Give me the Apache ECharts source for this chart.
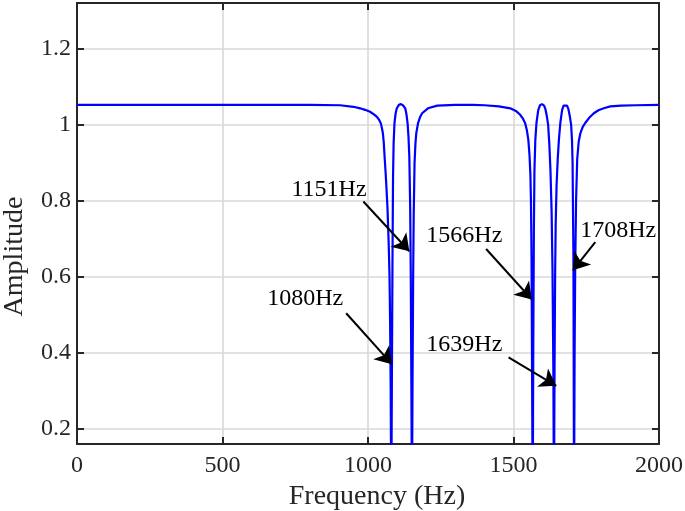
<!DOCTYPE html>
<html>
<head>
<meta charset="utf-8">
<script src="https://cdn.jsdelivr.net/npm/echarts@6/dist/echarts.min.js"></script>
<style>
  html, body { margin: 0; padding: 0; background: #fff; }
  #main { width: 685px; height: 511px; }
</style>
</head>
<body>
<div id="main"></div>
<script>
// frequency response (Hz / amplitude)
var freqs = [
    0, 500, 800, 904, 950, 973, 990, 1007, 1020, 1030, 1038, 1044, 1048, 1051, 1054, 1057, 1060, 1063, 1067, 1071, 1074, 1076, 1078,
    1080, 1082, 1084, 1086, 1088, 1091, 1095, 1099, 1106, 1113, 1120, 1128, 1132, 1136, 1139, 1142, 1145, 1147, 1149,
    1151, 1153, 1155, 1157, 1160, 1163, 1166, 1172, 1179, 1186, 1206, 1238, 1300, 1360, 1400, 1450, 1489, 1510, 1523, 1533,
    1540, 1546, 1551, 1555, 1558, 1560, 1562, 1564,
    1566, 1568, 1570, 1572, 1575, 1579, 1585, 1591, 1598, 1605, 1610, 1615, 1619, 1623, 1627, 1631, 1634, 1637,
    1639, 1641, 1643, 1645, 1648, 1652, 1656, 1661, 1667, 1672, 1678, 1684, 1689, 1694, 1698, 1701, 1703, 1706,
    1708, 1710, 1712, 1715, 1719, 1724, 1730, 1738, 1747, 1760, 1776, 1792, 1810, 1833, 1870, 1920, 2000
];
var amps = [
    1.052, 1.052, 1.052, 1.051, 1.047, 1.043, 1.039, 1.034, 1.027, 1.021, 1.013, 1.004, 0.990, 0.978, 0.955, 0.916, 0.880, 0.840, 0.780, 0.690, 0.600, 0.480, 0.300,
    0, 0.32, 0.62, 0.86, 0.95, 1.004, 1.030, 1.043, 1.052, 1.054, 1.051, 1.043, 1.028, 1.004, 0.970, 0.916, 0.780, 0.600, 0.320,
    0, 0.32, 0.58, 0.76, 0.90, 0.950, 0.978, 1.004, 1.020, 1.030, 1.043, 1.050, 1.052, 1.052, 1.051, 1.048, 1.043, 1.035, 1.026, 1.015,
    1.004, 0.985, 0.960, 0.920, 0.870, 0.800, 0.650, 0.320,
    0, 0.42, 0.72, 0.88, 0.96, 1.005, 1.038, 1.051, 1.054, 1.050, 1.040, 1.020, 1.000, 0.950, 0.880, 0.770, 0.620, 0.350,
    0, 0.35, 0.60, 0.74, 0.84, 0.91, 0.96, 1.005, 1.038, 1.050, 1.054, 1.050, 1.040, 1.020, 1.000, 0.960, 0.900, 0.650,
    0, 0.40, 0.62, 0.80, 0.910, 0.955, 0.978, 0.994, 1.005, 1.018, 1.030, 1.038, 1.043, 1.048, 1.050, 1.051, 1.052
];
var yTicks = [0.2, 0.4, 0.6, 0.8, 1, 1.2];

// notch annotations: text, text position, arrow start, arrow tip (data units)
var noteText = ['1151Hz', '1080Hz', '1566Hz', '1639Hz', '1708Hz'];
var notePos = [[866, 0.829], [784, 0.543], [1331, 0.708], [1331, 0.420], [1860, 0.721]];
var arrowFrom = [[984, 0.798], [925, 0.504], [1406, 0.673], [1483, 0.388], [1781, 0.691]];
var arrowTo = [[1142, 0.667], [1082, 0.370], [1563, 0.540], [1647, 0.313], [1704, 0.617]];

var FONT = 'Liberation Serif';
var AXIS_COLOR = '#262626';
var GRID_COLOR = '#d9d9d9';

var chart = echarts.init(document.getElementById('main'), null, { renderer: 'canvas' });

var curve = freqs.map(function (f, i) { return [f, amps[i]]; });
var texts = noteText.map(function (t, i) { return { name: t, value: notePos[i] }; });
var arrows = noteText.map(function (t, i) {
    return [{ coord: arrowFrom[i] }, { coord: arrowTo[i] }];
});

function xAx(pos, show) {
    return {
        type: 'value',
        position: pos,
        min: 0,
        max: 2000,
        interval: 500,
        axisLine: { show: true, onZero: false, lineStyle: { color: AXIS_COLOR, width: 2 } },
        axisTick: { show: true, inside: true, length: 7, lineStyle: { color: AXIS_COLOR, width: 2 } },
        axisLabel: {
            show: show, margin: 10, fontFamily: FONT, fontSize: 24, color: AXIS_COLOR,
            formatter: function (v) { return String(v); }
        },
        splitLine: { show: show, lineStyle: { color: GRID_COLOR, width: 1.6 } },
        name: show ? 'Frequency (Hz)' : '',
        nameLocation: 'middle',
        nameGap: 36,
        nameTextStyle: { fontFamily: FONT, fontSize: 28, color: AXIS_COLOR, padding: [0, 0, 0, 18] }
    };
}

function yAx(pos, show) {
    return {
        type: 'value',
        position: pos,
        min: 0.16,
        max: 1.32,
        axisLine: { show: true, onZero: false, lineStyle: { color: AXIS_COLOR, width: 2 } },
        axisTick: { show: true, inside: true, length: 7, customValues: yTicks, lineStyle: { color: AXIS_COLOR, width: 2 } },
        axisLabel: { show: show, margin: 6, customValues: yTicks, fontFamily: FONT, fontSize: 24, color: AXIS_COLOR },
        splitLine: { show: show, lineStyle: { color: GRID_COLOR, width: 1.6 } },
        name: show ? 'Amplitude' : '',
        nameLocation: 'middle',
        nameGap: 48,
        nameTextStyle: { fontFamily: FONT, fontSize: 28, color: AXIS_COLOR, padding: [0, 66, 0, 0] }
    };
}

var option = {
    animation: false,
    backgroundColor: '#fff',
    grid: { left: 77, right: 26, top: 3, bottom: 67, containLabel: false, outerBoundsMode: 'none' },
    xAxis: [xAx('bottom', true), xAx('top', false)],
    yAxis: [yAx('left', true), yAx('right', false)],
    series: [
        {
            type: 'line',
            data: curve,
            showSymbol: false,
            clip: true,
            lineStyle: { color: '#0000ff', width: 2.2 },
            z: 3
        },
        {
            type: 'scatter',
            data: texts,
            symbolSize: 0,
            silent: true,
            itemStyle: { opacity: 1 },
            label: {
                show: true,
                position: 'inside',
                formatter: '{b}',
                fontFamily: FONT,
                fontSize: 24,
                color: '#000'
            },
            markLine: {
                silent: true,
                symbol: ['none', 'arrow'],
                symbolSize: 16,
                label: { show: false },
                lineStyle: { color: '#000', width: 2, type: 'solid', opacity: 1 },
                data: arrows
            },
            z: 5
        }
    ]
};

chart.setOption(option);
</script>
</body>
</html>
